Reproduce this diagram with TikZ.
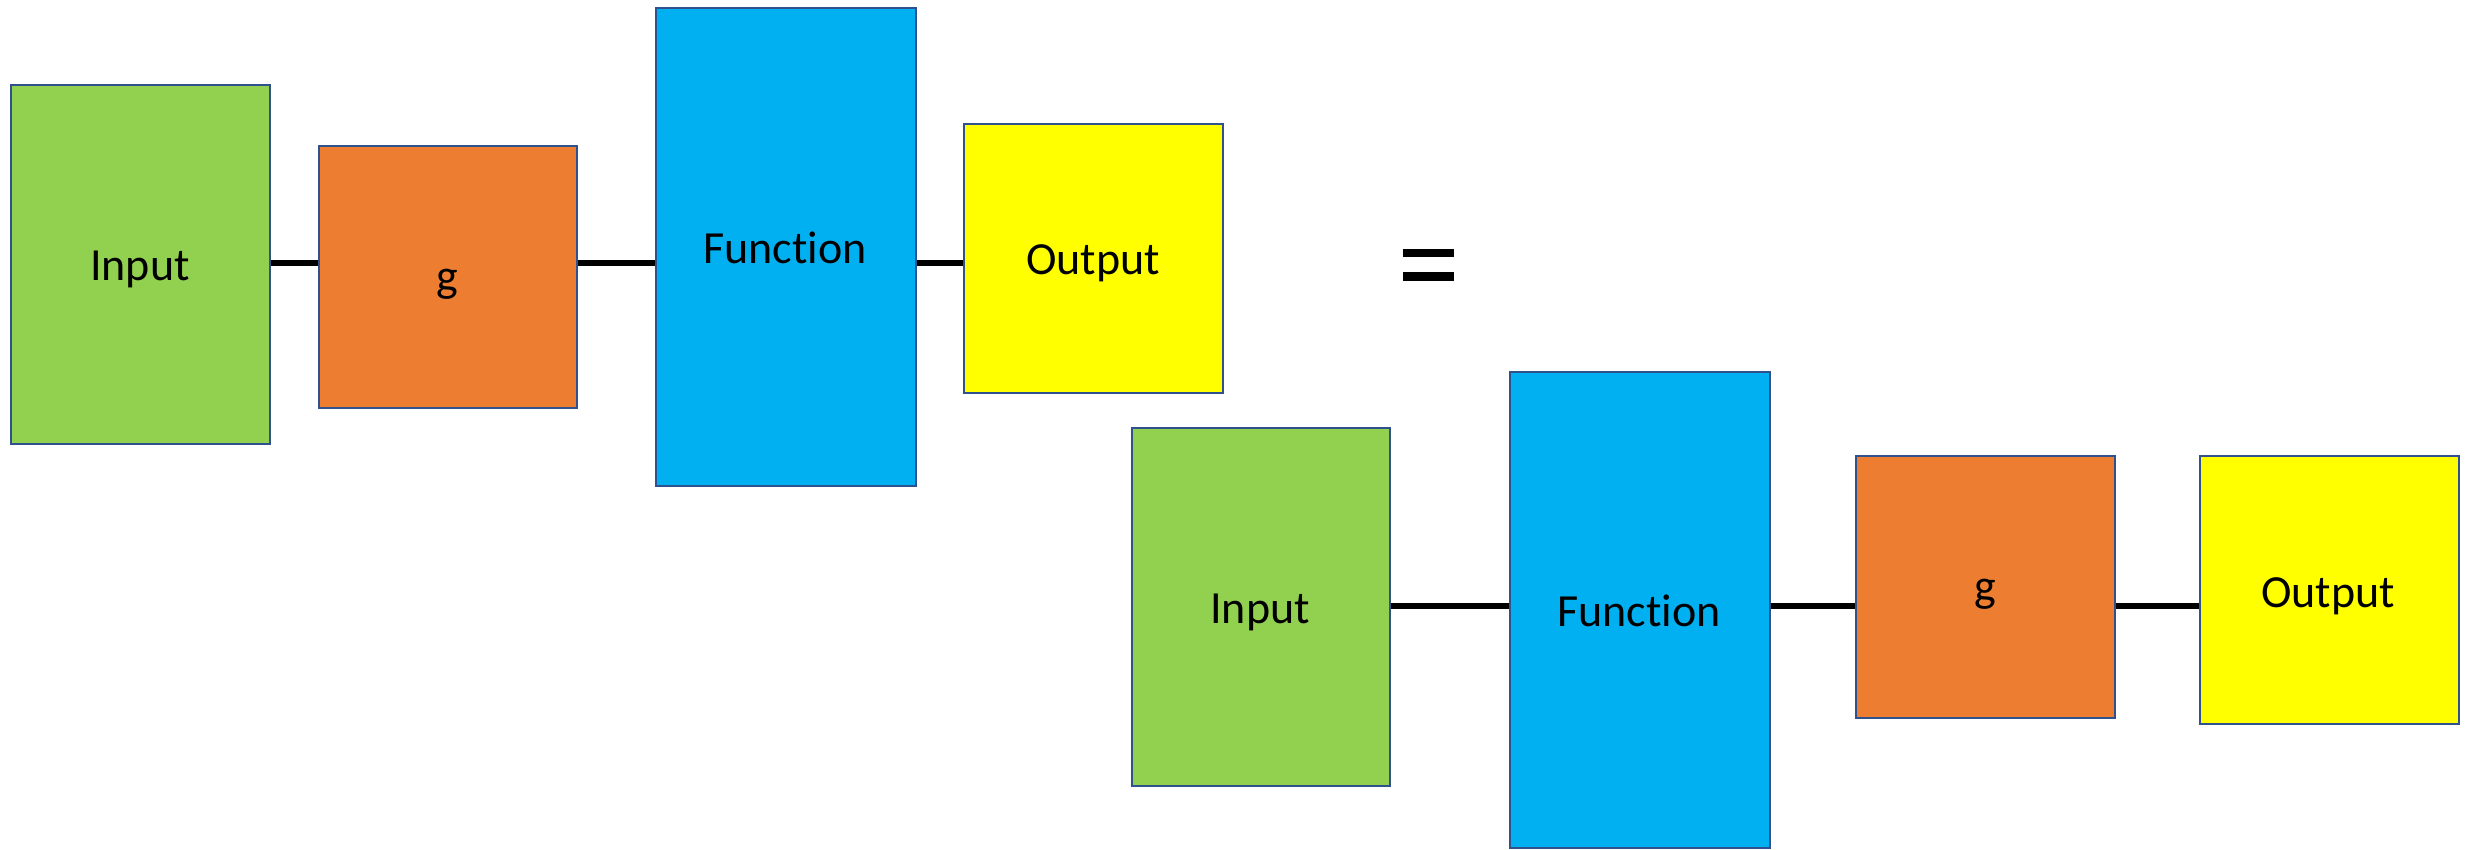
\documentclass[tikz,border=0pt]{standalone}
\usepackage{fontspec}
\setmainfont{Carlito}[Ligatures=CommonOff]
\definecolor{cgreen}{HTML}{92D050}
\definecolor{corange}{HTML}{ED7D31}
\definecolor{cblue}{HTML}{00B0F0}
\definecolor{cyellow}{HTML}{FFFF00}
\definecolor{cborder}{HTML}{2F528F}
\begin{document}
\begin{tikzpicture}[x=1pt,y=-1pt,
  box/.style={draw=cborder, line width=2pt, inner sep=0pt, anchor=north west},
  lbl/.style={anchor=base, inner sep=0pt, font=\fontsize{46}{55}\selectfont},
  conn/.style={line width=6pt, black}]
\useasboundingbox (0,0) rectangle (2476,849);
% row 1
\node[box, fill=cgreen,  minimum width=259pt, minimum height=359pt] (in1)  at (10,84) {};
\node[box, fill=corange, minimum width=258pt, minimum height=262pt] (g1)   at (318,145) {};
\node[box, fill=cblue,   minimum width=260pt, minimum height=478pt] (fn1)  at (655,7) {};
\node[box, fill=cyellow, minimum width=259pt, minimum height=269pt] (out1) at (963,123) {};
% row 2
\node[box, fill=cgreen,  minimum width=258pt, minimum height=358pt] (in2)  at (1131,427) {};
\node[box, fill=cblue,   minimum width=260pt, minimum height=476pt] (fn2)  at (1509,371) {};
\node[box, fill=corange, minimum width=259pt, minimum height=262pt] (g2)   at (1855,455) {};
\node[box, fill=cyellow, minimum width=259pt, minimum height=268pt] (out2) at (2199,455) {};
% labels
\node[lbl] (tin1)  at (140,280)  {Input};
\node[lbl] (tg1)   at (447,291)  {g};
\node[lbl] (tfn1)  at (785,263)  {Function};
\node[lbl] (tout1) at (1093,274) {Output};
\node[lbl] (tin2)  at (1260,623) {Input};
\node[lbl] (tfn2)  at (1639,626) {Function};
\node[lbl] (tg2)   at (1985,601) {g};
\node[lbl] (tout2) at (2328,607) {Output};
% connector levels
\coordinate (l1) at (0,263);
\coordinate (l2) at (0,606);
\draw[conn] (in1.east |- l1) -- (g1.west |- l1);
\draw[conn] (g1.east |- l1) -- (fn1.west |- l1);
\draw[conn] (fn1.east |- l1) -- (out1.west |- l1);
\draw[conn] (in2.east |- l2) -- (fn2.west |- l2);
\draw[conn] (fn2.east |- l2) -- (g2.west |- l2);
\draw[conn] (g2.east |- l2) -- (out2.west |- l2);
% equals sign
\fill[black] (1403,249) rectangle (1454,257);
\fill[black] (1403,272) rectangle (1454,281);
\end{tikzpicture}
\end{document}
